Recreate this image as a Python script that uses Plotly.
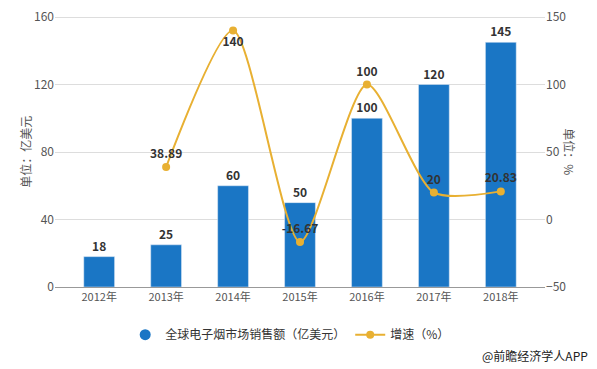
import plotly.graph_objects as go

years = ["2012年", "2013年", "2014年", "2015年", "2016年", "2017年", "2018年"]
sales = [18, 25, 60, 50, 100, 120, 145]
growth_years = ["2013年", "2014年", "2015年", "2016年", "2017年", "2018年"]
growth = [38.89, 140, -16.67, 100, 20, 20.83]
growth_text = ["38.89", "140", "-16.67", "100", "20", "20.83"]
growth_pos = ["top center", "bottom center", "top center", "top center", "top center", "top center"]

FONT = "Noto Sans CJK SC, Microsoft YaHei, sans-serif"
BAR = "#1a76c5"
LINE = "#e8b032"

fig = go.Figure()
fig.add_trace(go.Bar(
    x=years, y=sales, name="全球电子烟市场销售额（亿美元）", showlegend=False,
    marker=dict(color=BAR), width=0.46,
    text=[str(v) for v in sales], textposition="outside",
    textfont=dict(family=FONT, size=12, color="#333333"),
    texttemplate="<b>%{text}</b>", cliponaxis=False,
))
# legend proxy with circle symbol
fig.add_trace(go.Scatter(
    x=[None], y=[None], mode="markers", name="全球电子烟市场销售额（亿美元）",
    marker=dict(color=BAR, size=11, symbol="circle"),
))
fig.add_trace(go.Scatter(
    x=growth_years, y=growth, name="增速（%）", yaxis="y2",
    mode="lines+markers+text",
    line=dict(color=LINE, width=2, shape="spline", smoothing=0.7),
    marker=dict(color=LINE, size=8),
    text=["<b>%s</b>" % t for t in growth_text], textposition=growth_pos,
    textfont=dict(family=FONT, size=12, color="#333333"),
    cliponaxis=False,
))

fig.update_layout(
    width=589, height=361,
    margin=dict(l=47, r=52, t=8, b=82, autoexpand=False),
    paper_bgcolor="white", plot_bgcolor="white",
    font=dict(family=FONT, size=12, color="#555555"),
    showlegend=True,
    legend=dict(orientation="h", x=0.48, xanchor="center", y=-0.176, yanchor="middle",
                font=dict(family=FONT, size=12, color="#333333"), itemwidth=30),
    xaxis=dict(type="category", range=[-0.66, 6.66], showgrid=False,
               showline=True, linecolor="#999999", ticks="", tickfont=dict(size=11, color="#555555")),
    yaxis=dict(range=[0, 160.6], tickvals=[0, 40, 80, 120, 160], showgrid=True,
               gridcolor="#dddddd", zeroline=False, ticklabeloverflow="allow",
               tickfont=dict(size=12, color="#555555")),
    yaxis2=dict(range=[-50, 150.75], tickvals=[-50, 0, 50, 100, 150], overlaying="y", side="right",
                showgrid=False, zeroline=False, ticklabeloverflow="allow",
                tickfont=dict(size=12, color="#555555")),
    annotations=[
        dict(text="单位：亿美元", xref="paper", yref="paper", x=-0.082, y=0.5, textangle=-90,
             showarrow=False, font=dict(size=12, color="#555555")),
        dict(text="单位：%", xref="paper", yref="paper", x=1.071, y=0.5, textangle=90,
             showarrow=False, font=dict(size=12, color="#555555")),
        dict(text="@前瞻经济学人APP", xref="paper", yref="paper", x=(590-55)/490, xanchor="right",
             y=-(355-287)/271, yanchor="middle", showarrow=False,
             font=dict(size=12, color="#222222")),
    ],
)

fig.write_html("out.html")
